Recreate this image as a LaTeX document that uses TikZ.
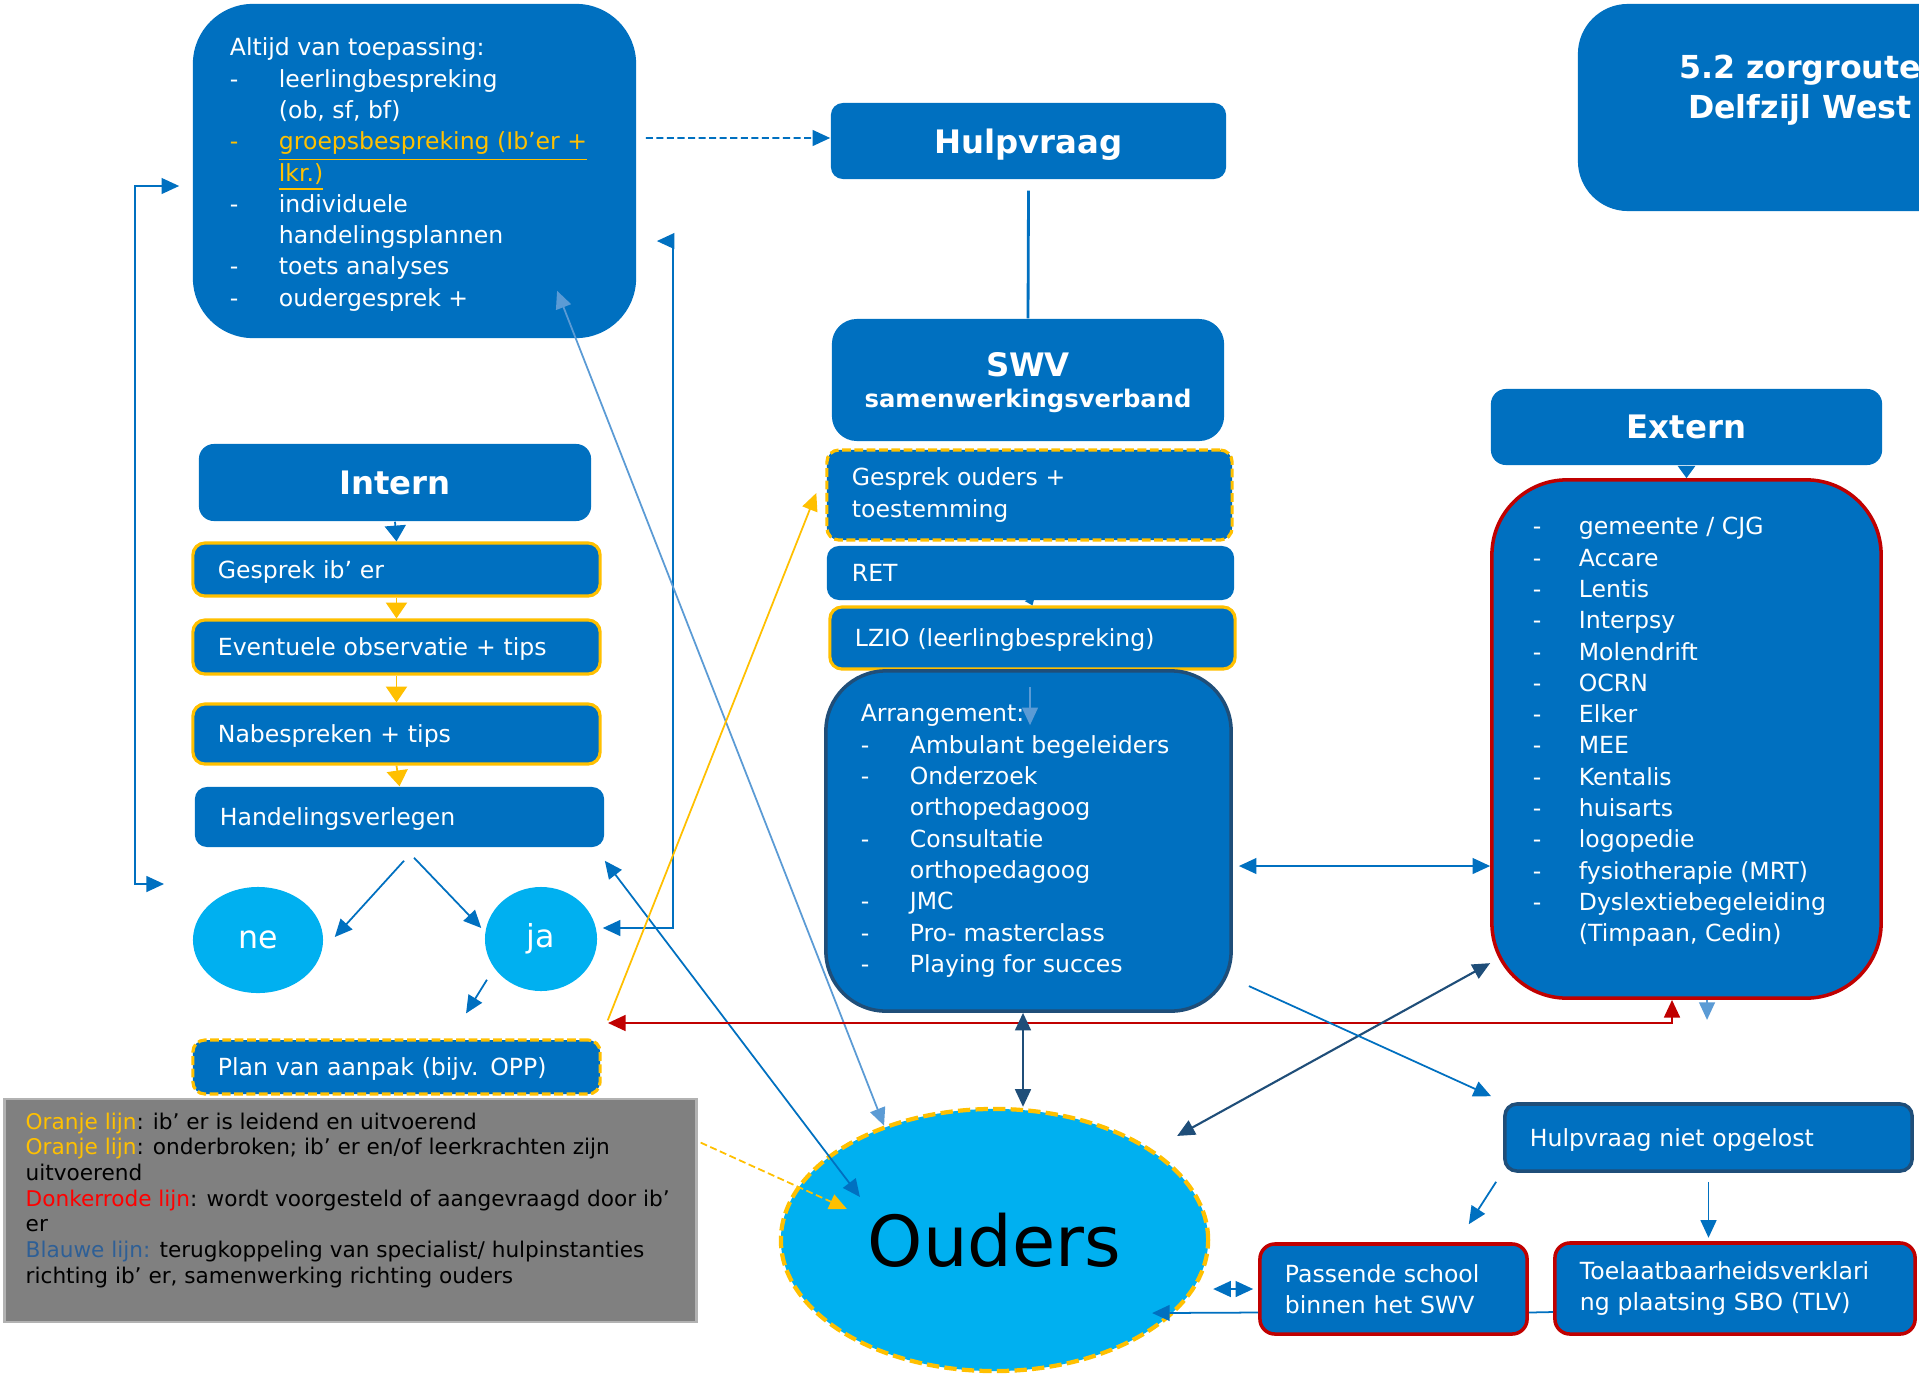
\documentclass[tikz,border=0pt]{standalone}
\usepackage{fontspec}
\setmainfont{DejaVu Sans}
\usetikzlibrary{arrows.meta,shapes.geometric}
\definecolor{myblue}{RGB}{0,112,192}
\definecolor{cyanfill}{RGB}{0,176,240}
\definecolor{orangec}{RGB}{255,192,0}
\definecolor{darkred}{RGB}{192,0,0}
\definecolor{navy}{RGB}{31,78,121}
\definecolor{lightblue}{RGB}{91,155,213}
\definecolor{legblue}{RGB}{46,95,150}
\definecolor{leggray}{RGB}{128,128,128}
\newcommand{\bodysize}{\fontsize{6.7}{8.9}\selectfont}
\newcommand{\hdrsize}{\fontsize{9.2}{11}\selectfont\bfseries}
\newcommand{\itm}{\makebox[0.49cm][l]{-}}
\newcommand{\itmb}{\makebox[0.46cm][l]{-}}
\newcommand{\ind}{\hspace*{0.49cm}}
\tikzset{
  box/.style={fill=myblue, text=white, rounded corners=0.12cm, inner xsep=0.25cm, inner ysep=0pt, align=left, font=\bodysize},
  hdr/.style={fill=myblue, text=white, rounded corners=0.15cm, align=center, font=\hdrsize},
  oneline/.style={text depth=0pt},
  txt/.style={text=white, align=left, inner sep=0pt, font=\bodysize},
  oline/.style={draw=orangec, line width=0.9pt},
  odash/.style={draw=orangec, line width=0.9pt, dash pattern=on 2.5pt off 1pt},
  rline/.style={draw=darkred, line width=1pt},
  bubble/.style={ellipse, fill=cyanfill, text=white, font=\fontsize{9}{10}\selectfont},
  link/.style={draw=myblue, line width=0.5pt},
  navylink/.style={draw=navy, line width=0.6pt},
  lightlink/.style={draw=lightblue, line width=0.5pt},
  orangelink/.style={draw=orangec, line width=0.5pt},
  redlink/.style={draw=darkred, line width=0.6pt},
  steptip/.style={-{Triangle[length=4.5pt,width=6pt]}}
}
\begin{document}
\begin{tikzpicture}[x=0.01cm,y=-0.01cm,>={Triangle[length=5pt,width=4.5pt]}]
\useasboundingbox (0,0) rectangle (1919,1373);
\clip (0,0) rectangle (1919,1373);
\fill[white] (0,0) rectangle (1919,1373);

\node[box, rounded corners=0.6cm, minimum width=4.43cm, minimum height=3.34cm] (altijd) at (414.5,171) {};
\node[txt, anchor=west] (altijdtxt) at ([shift={(0.37cm,-0.035cm)}]altijd.west) {Altijd van toepassing:\\
\itm leerlingbespreking\\
\ind (ob, sf, bf)\\
{\color{orangec}\itm\underline{groepsbespreking (Ib’er +}}\\
{\color{orangec}\ind\underline{lkr.)}}\\
\itm individuele\\
\ind handelingsplannen\\
\itm toets analyses\\
\itm oudergesprek +};

\node[hdr, oneline, rounded corners=0.12cm, minimum width=3.95cm, minimum height=0.76cm] (hulpvraag) at (1028.5,141) {Hulpvraag};
\node[hdr, rounded corners=0.5cm, minimum width=4.44cm, minimum height=2.07cm] (titel) at (1800,107.5) {};
\node[text=white, align=center, font=\fontsize{9}{11.4}\selectfont\bfseries] (titeltxt) at (1800,90) {5.2 zorgroute\\Delfzijl West};
\node[hdr, oneline, rounded corners=0.25cm, minimum width=3.92cm, minimum height=1.22cm] (swv) at (1028,380) {SWV\\[-2pt]{\fontsize{6.9}{8}\selectfont samenwerkingsverband}};

\node[box, odash, text width=3.55cm, minimum height=0.9cm] (gesprekouders) at (1029.5,495) {Gesprek ouders +\\toestemming};
\node[box, oneline, text width=3.57cm, minimum height=0.54cm] (ret) at (1030.5,573) {RET};
\node[box, oneline, oline, text width=3.55cm, minimum height=0.62cm] (lzio) at (1032.5,638) {LZIO (leerlingbespreking)};
\node[box, draw=navy, line width=1pt, rounded corners=0.6cm, minimum width=4.05cm, minimum height=3.40cm] (arrangement) at (1028.5,841) {};
\node[txt, anchor=west] (arrangementtxt) at ([xshift=0.36cm]arrangement.west) {Arrangement:\\
\itm Ambulant begeleiders\\
\itm Onderzoek\\
\ind orthopedagoog\\
\itm Consultatie\\
\ind orthopedagoog\\
\itm JMC\\
\itm Pro- masterclass\\
\itm Playing for succes};

\node[hdr, oneline, minimum width=3.92cm, minimum height=0.77cm] (intern) at (395,482.5) {Intern};
\node[box, oneline, oline, text width=3.57cm, minimum height=0.53cm] (gesprekib) at (396.5,569.5) {Gesprek ib’ er};
\node[box, oneline, oline, text width=3.57cm, minimum height=0.54cm] (observatie) at (396.5,647) {Eventuele observatie + tips};
\node[box, oneline, oline, text width=3.57cm, minimum height=0.60cm] (nabespreken) at (396.5,734) {Nabespreken + tips};
\node[box, oneline, text width=3.59cm, minimum height=0.60cm] (handeling) at (399.5,817) {Handelingsverlegen};
\node[bubble, minimum width=1.30cm, minimum height=1.06cm] (ne) at (258,940) {ne};
\node[bubble, minimum width=1.12cm, minimum height=1.04cm] (ja) at (541,939) {ja};
\node[box, oneline, odash, text width=3.57cm, minimum height=0.54cm] (plan) at (396.5,1067) {Plan van aanpak (bijv. OPP)};

\node[fill=leggray, draw=gray!60, line width=0.8pt, minimum width=6.91cm, minimum height=2.23cm] (legend) at (350.5,1210.5) {};
\node[anchor=north west, inner sep=0pt, align=left, font=\fontsize{6.15}{7.3}\selectfont] (legendtxt) at (25,1112) {{\color{orangec}Oranje lijn}: ib’ er is leidend en uitvoerend\\
{\color{orangec}Oranje lijn}: onderbroken; ib’ er en/of leerkrachten zijn\\
uitvoerend\\
{\color{red}Donkerrode lijn}: wordt voorgesteld of aangevraagd door ib’\\
er\\
{\color{legblue}Blauwe lijn:} terugkoppeling van specialist/ hulpinstanties\\
richting ib’ er, samenwerking richting ouders};

\node[hdr, oneline, minimum width=3.91cm, minimum height=0.76cm] (externhdr) at (1686.5,427) {Extern};
\node[box, rline, rounded corners=0.75cm, minimum width=3.89cm, minimum height=5.18cm] (externlist) at (1686.5,739) {};
\node[txt, anchor=west] (externtxt) at ([shift={(0.42cm,0.07cm)}]externlist.west) {\itmb gemeente / CJG\\
\itmb Accare\\
\itmb Lentis\\
\itmb Interpsy\\
\itmb Molendrift\\
\itmb OCRN\\
\itmb Elker\\
\itmb MEE\\
\itmb Kentalis\\
\itmb huisarts\\
\itmb logopedie\\
\itmb fysiotherapie (MRT)\\
\itmb Dyslextiebegeleiding\\
\hspace*{0.46cm}(Timpaan, Cedin)};

\node[ellipse, fill=cyanfill, draw=orangec, line width=1.2pt, dash pattern=on 3.5pt off 1.5pt, minimum width=4.27cm, minimum height=2.62cm, font=\fontsize{20}{24}\selectfont] (ouders) at (994.5,1240) {Ouders};
\node[box, oneline, draw=navy, line width=1pt, text width=3.57cm, minimum height=0.67cm] (nietopgelost) at (1708.5,1137.5) {Hulpvraag niet opgelost};
\node[box, rline, rounded corners=0.15cm, text width=2.17cm, minimum height=0.90cm] (passende) at (1393.5,1289) {Passende school\\binnen het SWV};
\node[box, rline, rounded corners=0.15cm, text width=3.10cm, minimum height=0.91cm] (tlv) at (1735,1288.5) {Toelaatbaarheidsverklari\\ng plaatsing SBO (TLV)};

\draw[link, dash pattern=on 2pt off 1pt, ->] ([shift={(0.09cm,0.33cm)}]altijd.east) -- ([yshift=0.03cm]hulpvraag.west);
\draw[link, line width=0.8pt] ([yshift=-0.11cm]hulpvraag.south) -- (swv.north);
\coordinate (lbot) at (164,884);
\draw[link, <->] (lbot) -- ++(-29,0) |- ([shift={(-0.13cm,-0.15cm)}]altijd.west);
\draw[link, <->] ([shift={(0.05cm,0.11cm)}]ja.east) -- ++(70,0) |- ([shift={(0.20cm,-0.70cm)}]altijd.east);

\draw[link, steptip] (intern.south) -- (gesprekib.north);
\draw[orangelink, steptip] (gesprekib.south) -- (observatie.north);
\draw[orangelink, steptip] (observatie.south) -- (nabespreken.north);
\draw[orangelink, steptip] (nabespreken.south) -- (handeling.north);
\draw[draw=myblue, -{Triangle[length=3.5pt,width=5pt]}] (externhdr.south) -- (externlist.north);
\draw[draw=myblue, -{Triangle[length=2pt,width=3pt]}] (ret.south) -- (lzio.north);

\draw[link, ->] ([shift={(0.045cm,-0.13cm)}]handeling.south) -- ([shift={(0.11cm,0.03cm)}]ne.east);
\draw[link, ->] ([shift={(0.145cm,-0.10cm)}]handeling.south) -- ([shift={(-0.03cm,0.11cm)}]ja.west);
\draw[link, ->] ([shift={(-0.54cm,0.12cm)}]ja.south) -- ([shift={(0.695cm,0.25cm)}]plan.north);

\draw[lightlink, <->] ([shift={(1.425cm,0.48cm)}]altijd.south) -- (ouders.134);
\draw[link, <->] ([yshift=-0.13cm]handeling.south east) -- ([shift={(-1.345cm,0.43cm)}]ouders.center);
\draw[orangelink, dash pattern=on 2pt off 1pt, ->] ([shift={(0.03cm,-0.45cm)}]legend.north east) -- ([shift={(-1.475cm,0.31cm)}]ouders.center);
\draw[orangelink, ->] ([shift={(0.06cm,0.18cm)}]plan.north east) -- ([shift={(-0.09cm,0.02cm)}]gesprekouders.west);
\draw[lightlink, ->] ([shift={(0.015cm,-0.18cm)}]arrangement.north) -- ++(0,38);

\coordinate (redend) at (608,1023);
\draw[redlink, <->] ([xshift=-0.145cm]externlist.south) |- (redend);
\draw[lightlink, ->] ([xshift=0.205cm]externlist.south) -- ++(0,20);

\draw[navylink, <->] ([xshift=-0.055cm]arrangement.south) coordinate (ao) -- (ao |- ouders.north);
\draw[navylink, <->] ([shift={(1.825cm,1.04cm)}]ouders.center) -- ([yshift=-2.24cm]externlist.west);
\draw[link, <->] ([shift={(0.06cm,-0.25cm)}]arrangement.east) coordinate (ae) -- (ae -| externlist.west);
\draw[link, ->] ([shift={(0.16cm,-1.45cm)}]arrangement.east) -- ([shift={(-0.12cm,0.06cm)}]nietopgelost.north west);

\draw[link, ->] ([shift={(-0.07cm,-0.09cm)}]nietopgelost.south west) -- ([shift={(-0.60cm,0.18cm)}]passende.north east);
\draw[link, ->] ([yshift=-0.09cm]nietopgelost.south) -- ++(0,56);
\draw[link, <->] ([xshift=-0.05cm]passende.west) -- ++(-40,0);
\draw[link] ([yshift=-0.235cm]tlv.west) -- ([yshift=-0.235cm]passende.east);
\draw[link, ->] ([yshift=-0.235cm]passende.west) -- ([shift={(1.575cm,-0.73cm)}]ouders.center);

\end{tikzpicture}
\end{document}
